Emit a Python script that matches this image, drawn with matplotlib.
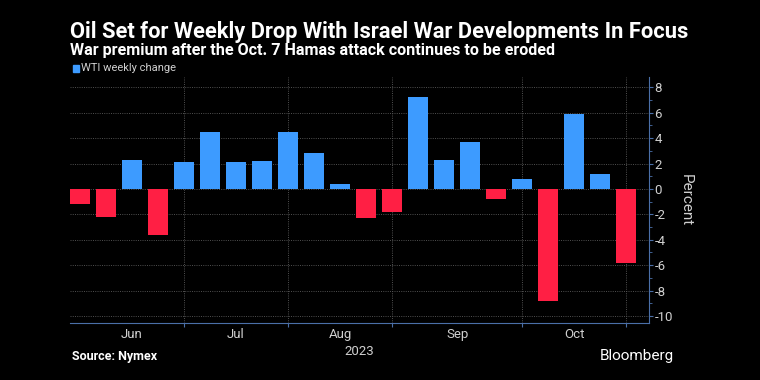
import matplotlib.pyplot as plt
import numpy as np

# weekly change of WTI, percent
values = [-1.2, -2.2, 2.3, -3.6, 2.1, 4.5, 2.1, 2.2, 4.5, 2.8, 0.4,
          -2.3, -1.8, 7.2, 2.3, 3.7, -0.8, 0.8, -8.8, 5.9, 1.2, -5.8]
months = ['Jun', 'Jul', 'Aug', 'Sep', 'Oct']
month_centers = [2, 6, 10, 14.5, 19]
month_edges = [4, 8, 12, 17, 21]
yticks = [8, 6, 4, 2, 0, -2, -4, -6, -8, -10]

BLUE = '#3d9bff'
RED = '#ff1f44'
GRID = '#5a5a5a'
SPINE = '#4a6fa8'
TXT = '#d0d0d0'

plt.rcParams['font.family'] = ['Roboto', 'DejaVu Sans']

fig = plt.figure(figsize=(7.6, 3.8), dpi=100, facecolor='black')
ax = fig.add_axes([0.092, 0.15, 0.762, 0.647], facecolor='black')

x = np.arange(len(values))
colors = [BLUE if v >= 0 else RED for v in values]
ax.bar(x, values, width=0.77, color=colors, zorder=3)

ax.set_xlim(-0.385, 21.88)
ax.set_ylim(-10.55, 8.8)

ax.yaxis.tick_right()
ax.yaxis.set_label_position('right')
ax.set_yticks(yticks)
ax.set_yticklabels([str(t) for t in yticks])
ax.set_yticks(np.arange(-9, 9, 2), minor=True)
ax.tick_params(axis='y', which='both', colors=SPINE, labelcolor=TXT,
               labelsize=9.5, length=3, pad=1)
ax.tick_params(axis='y', which='minor', length=2)
ax.set_ylabel('Percent', color=TXT, fontsize=11, rotation=270, labelpad=14)

ax.set_xticks(month_edges)
ax.set_xticklabels([])
ax.tick_params(axis='x', colors=SPINE, length=3)
for c, m in zip(month_centers, months):
    ax.text(c, -0.022, m, transform=ax.get_xaxis_transform(), ha='center',
            va='top', color=TXT, fontsize=9.5)
ax.text(0.5, -0.09, '2023', transform=ax.transAxes, ha='center', va='top',
        color=TXT, fontsize=9.5)

ax.grid(True, axis='both', color=GRID, linestyle=(0, (1.2, 1.5)), linewidth=0.6, zorder=0)

for s in ['top', 'left']:
    ax.spines[s].set_visible(False)
ax.spines['right'].set_color(SPINE)
ax.spines['bottom'].set_color(SPINE)

title = fig.text(0.092, 0.9, 'Oil Set for Weekly Drop With Israel War Developments In Focus',
                 color='white', fontsize=16, fontweight='bold', va='baseline')
sub = fig.text(0.092, 0.856, 'War premium after the Oct. 7 Hamas attack continues to be eroded',
               color='white', fontsize=12, fontweight='bold', va='baseline')

# shrink the headings until they span the same width as the original
r = fig.canvas.get_renderer()
for t, w in [(title, 620), (sub, 486)]:
    cur = t.get_window_extent(r).width
    t.set_fontsize(t.get_fontsize() * w / cur)

fig.patches.append(plt.Rectangle((0.096, 0.81), 0.008, 0.02, transform=fig.transFigure,
                                 color=BLUE, figure=fig))
fig.text(0.107, 0.812, 'WTI weekly change', color=TXT, fontsize=8, va='baseline')

fig.text(0.095, 0.052, 'Source: Nymex', color='white', fontsize=9, fontweight='bold')
fig.text(0.887, 0.052, 'Bloomberg', color='white', fontsize=11, ha='right')

fig.savefig('out.png', dpi=100, facecolor='black')
